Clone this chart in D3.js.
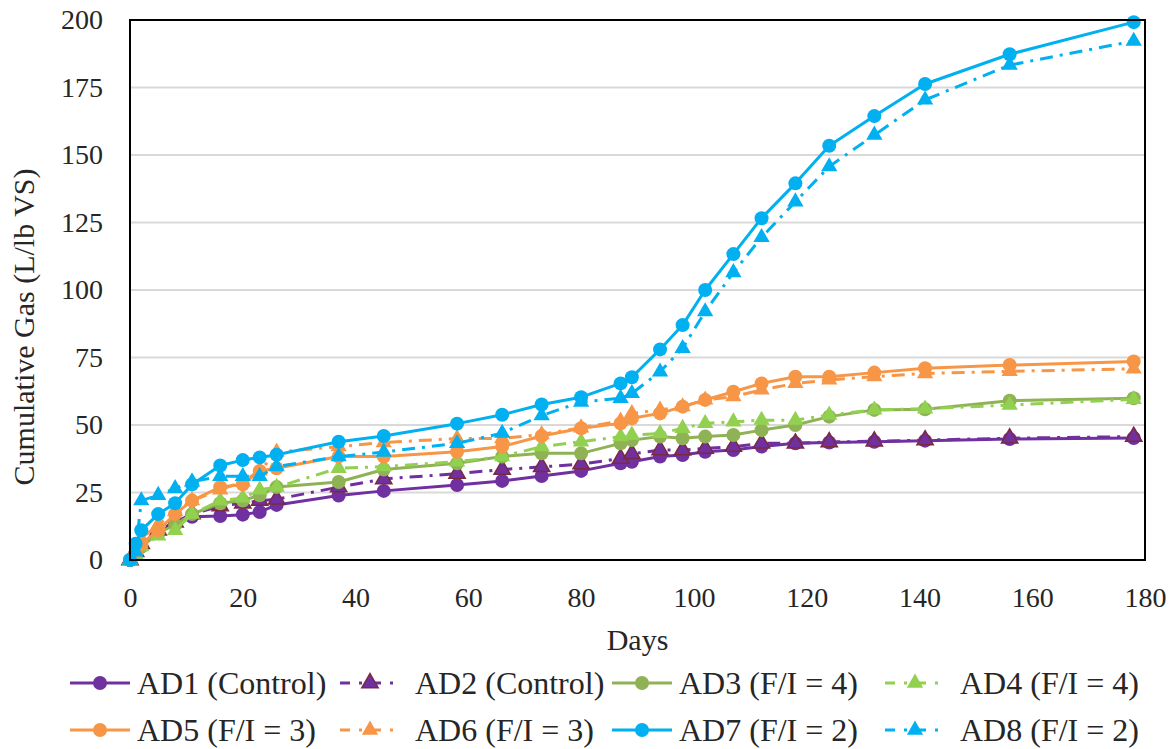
<!DOCTYPE html>
<html>
<head>
<meta charset="utf-8">
<script src="https://cdn.jsdelivr.net/npm/d3@7"></script>
<style>
  html, body { margin: 0; padding: 0; background: #fff; }
</style>
</head>
<body>
<svg id="chart" width="1172" height="749"></svg>
<script>
// Sampling days (shared by all digesters)
const days = [0, 1, 2, 5, 8, 11, 16, 20, 23, 26, 37, 45, 58, 66, 73, 80, 87, 89, 94, 98, 102, 107, 112, 118, 124, 132, 141, 156, 178];

// Cumulative gas, L/lb VS
const ad1 = [0, 2, 5, 10, 14, 16, 16.3, 16.8, 17.8, 20.4, 23.9, 25.6, 27.8, 29.3, 31.1, 33, 35.8, 36.4, 38.3, 38.9, 40.1, 40.7, 42, 43.2, 43.5, 43.8, 44.2, 44.8, 45.2];
const ad2 = [0, 3, 6, 11, 14, 17, 20, 21, 22, 22.5, 27, 30, 32, 33.5, 34.5, 35.5, 37.6, 39.3, 40.7, 40.7, 41.3, 42, 43.2, 43.2, 43.7, 44, 44.4, 45.1, 45.7];
const ad3 = [0, 2, 5, 10, 13, 17, 21, 22, 24, 27, 28.9, 33.5, 35.8, 38.3, 39.5, 39.5, 43.2, 44.4, 45.7, 45.1, 45.7, 46.3, 48.1, 50, 53.1, 55.6, 55.8, 59, 59.9];
const ad4 = [0, 2, 5, 9, 11, 17, 22, 23, 26, 27, 34, 34.6, 36.4, 38.3, 42, 43.8, 45.7, 46.3, 46.9, 48.8, 50.6, 51.2, 51.8, 51.8, 53.7, 55.6, 56, 57.4, 59.5];
const ad5 = [0, 3, 6, 11, 17, 22, 27, 28, 33, 34, 38.3, 38.3, 40.1, 42, 45.9, 48.8, 50.6, 52.5, 54.3, 56.8, 59.3, 62.3, 65.4, 67.9, 67.9, 69.4, 71, 72.2, 73.5];
const ad6 = [0, 4, 8, 13, 18, 22, 26, 29, 33, 40, 42, 43.5, 45, 45, 46.5, 49, 51.5, 54.3, 55.6, 56.8, 59.3, 60.5, 63, 65.4, 66.7, 67.9, 69.1, 69.9, 70.8];
const ad7 = [0, 6, 11, 17, 21, 28, 35, 37, 38, 39, 43.8, 45.9, 50.5, 53.8, 57.6, 60.3, 65.4, 67.7, 78, 87, 100, 113.3, 126.6, 139.5, 153.4, 164.4, 176.3, 187.3, 199.2];
const ad8 = [0, 3, 22, 24, 26.5, 29, 31, 31, 31, 34.6, 38.3, 40, 43.2, 47, 53.5, 58.5, 59.9, 61.7, 69.7, 78.4, 92, 106.5, 119.5, 132.7, 145.7, 157.4, 170.4, 183.3, 192.2];

const seriesNames = ["AD1 (Control)", "AD2 (Control)", "AD3 (F/I = 4)", "AD4 (F/I = 4)",
                     "AD5 (F/I = 3)", "AD6 (F/I = 3)", "AD7 (F/I = 2)", "AD8 (F/I = 2)"];
const seriesValues = [ad1, ad2, ad3, ad4, ad5, ad6, ad7, ad8];

const xTicks = [0, 20, 40, 60, 80, 100, 120, 140, 160, 180];
const yTicks = [0, 25, 50, 75, 100, 125, 150, 175, 200];

// Styling per series
const styles = [
  { color: "#7030A0", marker: "circle",   dash: null },
  { color: "#7030A0", marker: "triangle", dash: "13,7,3,7", stroke: "#7B2A3E" },
  { color: "#8FB255", marker: "circle",   dash: null },
  { color: "#92D050", marker: "triangle", dash: "13,7,3,7" },
  { color: "#F79646", marker: "circle",   dash: null },
  { color: "#F79646", marker: "triangle", dash: "13,7,3,7" },
  { color: "#00B0F0", marker: "circle",   dash: null },
  { color: "#00B0F0", marker: "triangle", dash: "13,7,3,7" }
];

const FONT = '"Liberation Serif"';
const TEXT = "#262626";

const W = 1172, H = 749;
const margin = { left: 130, top: 20, right: W - 1145, bottom: H - 560 };
const svg = d3.select("#chart");

const x = d3.scaleLinear().domain([0, 180]).range([margin.left, W - margin.right]);
const y = d3.scaleLinear().domain([0, 200]).range([H - margin.bottom, margin.top]);

// Gridlines
svg.append("g")
  .selectAll("line")
  .data(yTicks.filter(d => d > 0 && d < 200))
  .join("line")
  .attr("x1", x(0)).attr("x2", x(180))
  .attr("y1", d => y(d)).attr("y2", d => y(d))
  .attr("stroke", "#D9D9D9").attr("stroke-width", 2);

// Axes (tick labels only; the frame is drawn separately)
const tickSize = 28;
const yAxis = svg.append("g")
  .attr("transform", `translate(${x(0)},0)`)
  .call(d3.axisLeft(y).tickValues(yTicks).tickSize(0).tickPadding(27));
yAxis.attr("font-family", null).attr("font-size", null);
yAxis.select(".domain").remove();
yAxis.selectAll("text").attr("font-size", tickSize).style("font-family", FONT).attr("fill", TEXT);

const xAxis = svg.append("g")
  .attr("transform", `translate(0,${y(0)})`)
  .call(d3.axisBottom(x).tickValues(xTicks).tickSize(0).tickPadding(27));
xAxis.attr("font-family", null).attr("font-size", null);
xAxis.select(".domain").remove();
xAxis.selectAll("text").attr("font-size", tickSize).style("font-family", FONT).attr("fill", TEXT);

// Series
const triangle = d3.symbol().type(d3.symbolTriangle).size(115);
seriesValues.forEach((vals, i) => {
  const st = styles[i];
  const pts = days.map((d, j) => [d, vals[j]]);
  const g = svg.append("g");
  g.append("path")
    .datum(pts)
    .attr("fill", "none")
    .attr("stroke", st.color)
    .attr("stroke-width", 3)
    .attr("stroke-dasharray", st.dash)
    .attr("stroke-linejoin", "round")
    .attr("d", d3.line().x(p => x(p[0])).y(p => y(p[1])));
  if (st.marker === "circle") {
    g.selectAll("circle").data(pts).join("circle")
      .attr("cx", p => x(p[0])).attr("cy", p => y(p[1]))
      .attr("r", 7).attr("fill", st.color);
  } else {
    g.selectAll("path.m").data(pts).join("path").attr("class", "m")
      .attr("transform", p => `translate(${x(p[0])},${y(p[1])})`)
      .attr("d", triangle)
      .attr("fill", st.color)
      .attr("stroke", st.stroke || "none")
      .attr("stroke-width", st.stroke ? 1.5 : 0);
  }
});

// Plot frame
svg.append("rect")
  .attr("x", x(0)).attr("y", y(200))
  .attr("width", x(180) - x(0)).attr("height", y(0) - y(200))
  .attr("fill", "none").attr("stroke", "#000").attr("stroke-width", 2);

// Axis titles
svg.append("text")
  .attr("x", (x(0) + x(180)) / 2).attr("y", 650)
  .attr("text-anchor", "middle").attr("font-size", 30)
  .style("font-family", FONT).attr("fill", TEXT)
  .text("Days");
svg.append("text")
  .attr("transform", `translate(34,${327}) rotate(-90)`)
  .attr("text-anchor", "middle").attr("font-size", 30)
  .style("font-family", FONT).attr("fill", TEXT)
  .text("Cumulative Gas (L/lb VS)");

// Legend: two rows of four entries
const colX = [70, 340, 612, 885];
const rowY = [683, 730];
seriesNames.forEach((name, i) => {
  const st = styles[i];
  const cx0 = colX[i % 4], cy0 = rowY[Math.floor(i / 4)];
  const g = svg.append("g").attr("transform", `translate(${cx0},${cy0})`);
  g.append("line").attr("x1", 0).attr("x2", 60).attr("y1", 0).attr("y2", 0)
    .attr("stroke", st.color).attr("stroke-width", 3)
    .attr("stroke-dasharray", st.dash ? "10,9,3,9" : null);
  if (st.marker === "circle") {
    g.append("circle").attr("cx", 30).attr("cy", 0).attr("r", 7).attr("fill", st.color);
  } else {
    g.append("path").attr("transform", "translate(30,0)").attr("d", triangle)
      .attr("fill", st.color).attr("stroke", st.stroke || "none").attr("stroke-width", st.stroke ? 1.5 : 0);
  }
  g.append("text").attr("x", st.dash ? 75 : 67).attr("y", 0).attr("dy", "0.33em")
    .attr("font-size", 32).style("font-family", FONT).attr("fill", TEXT).text(name);
});
</script>
</body>
</html>
